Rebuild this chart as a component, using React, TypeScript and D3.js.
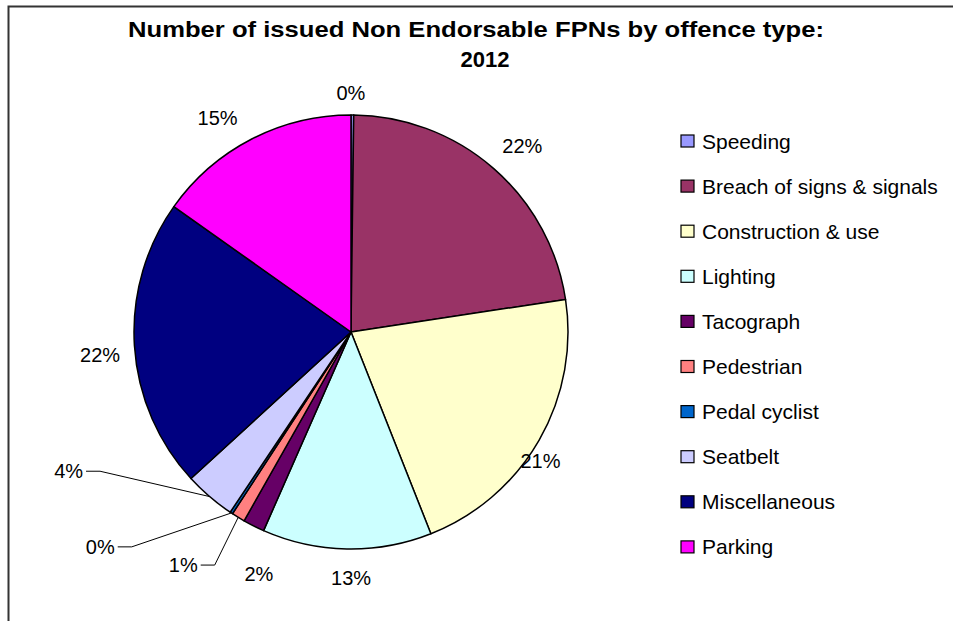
import React from "react";
import * as d3 from "d3";

const categories = [
  "Speeding",
  "Breach of signs & signals",
  "Construction & use",
  "Lighting",
  "Tacograph",
  "Pedestrian",
  "Pedal cyclist",
  "Seatbelt",
  "Miscellaneous",
  "Parking",
];
const shares = [0.2, 22.4, 21.4, 12.6, 1.6, 1.0, 0.2, 3.8, 21.6, 15.2];
const colors = [
  "#9999FF",
  "#993366",
  "#FFFFCC",
  "#CCFFFF",
  "#660066",
  "#FF8080",
  "#0066CC",
  "#CCCCFF",
  "#000080",
  "#FF00FF",
];
const titleLines = ["Number of issued Non Endorsable FPNs by offence type:", "2012"];

// label layout: [angle offset from slice middle (deg), distance from centre, leader?]
const labelLayout: [number, number, boolean][] = [
  [-0.4, 239, false],
  [1.6, 253, false],
  [4.3, 229, false],
  [-1.1, 246, false],
  [-5.8, 259, false],
  [-1.0, 270, true],
  [12.1, 307, true],
  [20.3, 287, true],
  [-1.6, 252, false],
  [-4.6, 252, false],
];

const W = 953;
const H = 621;
const cx = 351;
const cy = 332;
const R = 217;
const FONT = "'Liberation Sans', Arial, sans-serif";

export default function App() {
  const total = d3.sum(shares);
  const pie = d3.pie<number>().sort(null).value((d) => d);
  const arcs = pie(shares);
  const arcGen = d3.arc<d3.PieArcDatum<number>>().innerRadius(0).outerRadius(R);
  const polar = (a: number, r: number): [number, number] => [
    cx + r * Math.sin(a),
    cy - r * Math.cos(a),
  ];

  return (
    <svg
      width={W}
      height={H}
      style={{ position: "absolute", left: 0, top: 0, background: "#fff" }}
      fontFamily={FONT}
    >
      <rect x={0} y={0} width={W} height={H} fill="#fff" />
      <rect x={8.5} y={6.5} width={W + 20} height={H + 20} fill="none" stroke="#333" strokeWidth={2} />
      <text x={476} y={37} textAnchor="middle" fontSize={22} fontWeight="bold" textLength={696} lengthAdjust="spacingAndGlyphs">
        {titleLines[0]}
      </text>
      <text x={485} y={67} textAnchor="middle" fontSize={22} fontWeight="bold">
        {titleLines[1]}
      </text>
      <g transform={`translate(${cx},${cy})`}>
        {arcs.map((a, i) => (
          <path key={i} d={arcGen(a) || ""} fill={colors[i]} stroke="#000" strokeWidth={1.5} strokeLinejoin="round" />
        ))}
      </g>
      {arcs.map((a, i) => {
        const mid = (a.startAngle + a.endAngle) / 2;
        const [dAng, dist, leader] = labelLayout[i];
        const ang = mid + (dAng * Math.PI) / 180;
        const label = `${Math.round((shares[i] / total) * 100)}%`;
        if (!leader) {
          const [x, y] = polar(ang, dist);
          return (
            <text key={i} x={x} y={y} dy="0.35em" textAnchor="middle" fontSize={20}>
              {label}
            </text>
          );
        }
        const [sx, sy] = polar(mid, R);
        const [ex, ey] = polar(ang, dist);
        return (
          <g key={i}>
            <polyline points={`${sx},${sy} ${ex},${ey} ${ex - 14},${ey}`} fill="none" stroke="#000" strokeWidth={1} />
            <text x={ex - 17} y={ey} dy="0.35em" textAnchor="end" fontSize={20}>
              {label}
            </text>
          </g>
        );
      })}
      {categories.map((c, i) => {
        const y = 141 + i * 45.1;
        return (
          <g key={c}>
            <rect x={681} y={y - 6} width={13} height={12} fill={colors[i]} stroke="#000" strokeWidth={1.2} />
            <text x={702} y={y} dy="0.36em" fontSize={21}>
              {c}
            </text>
          </g>
        );
      })}
    </svg>
  );
}
